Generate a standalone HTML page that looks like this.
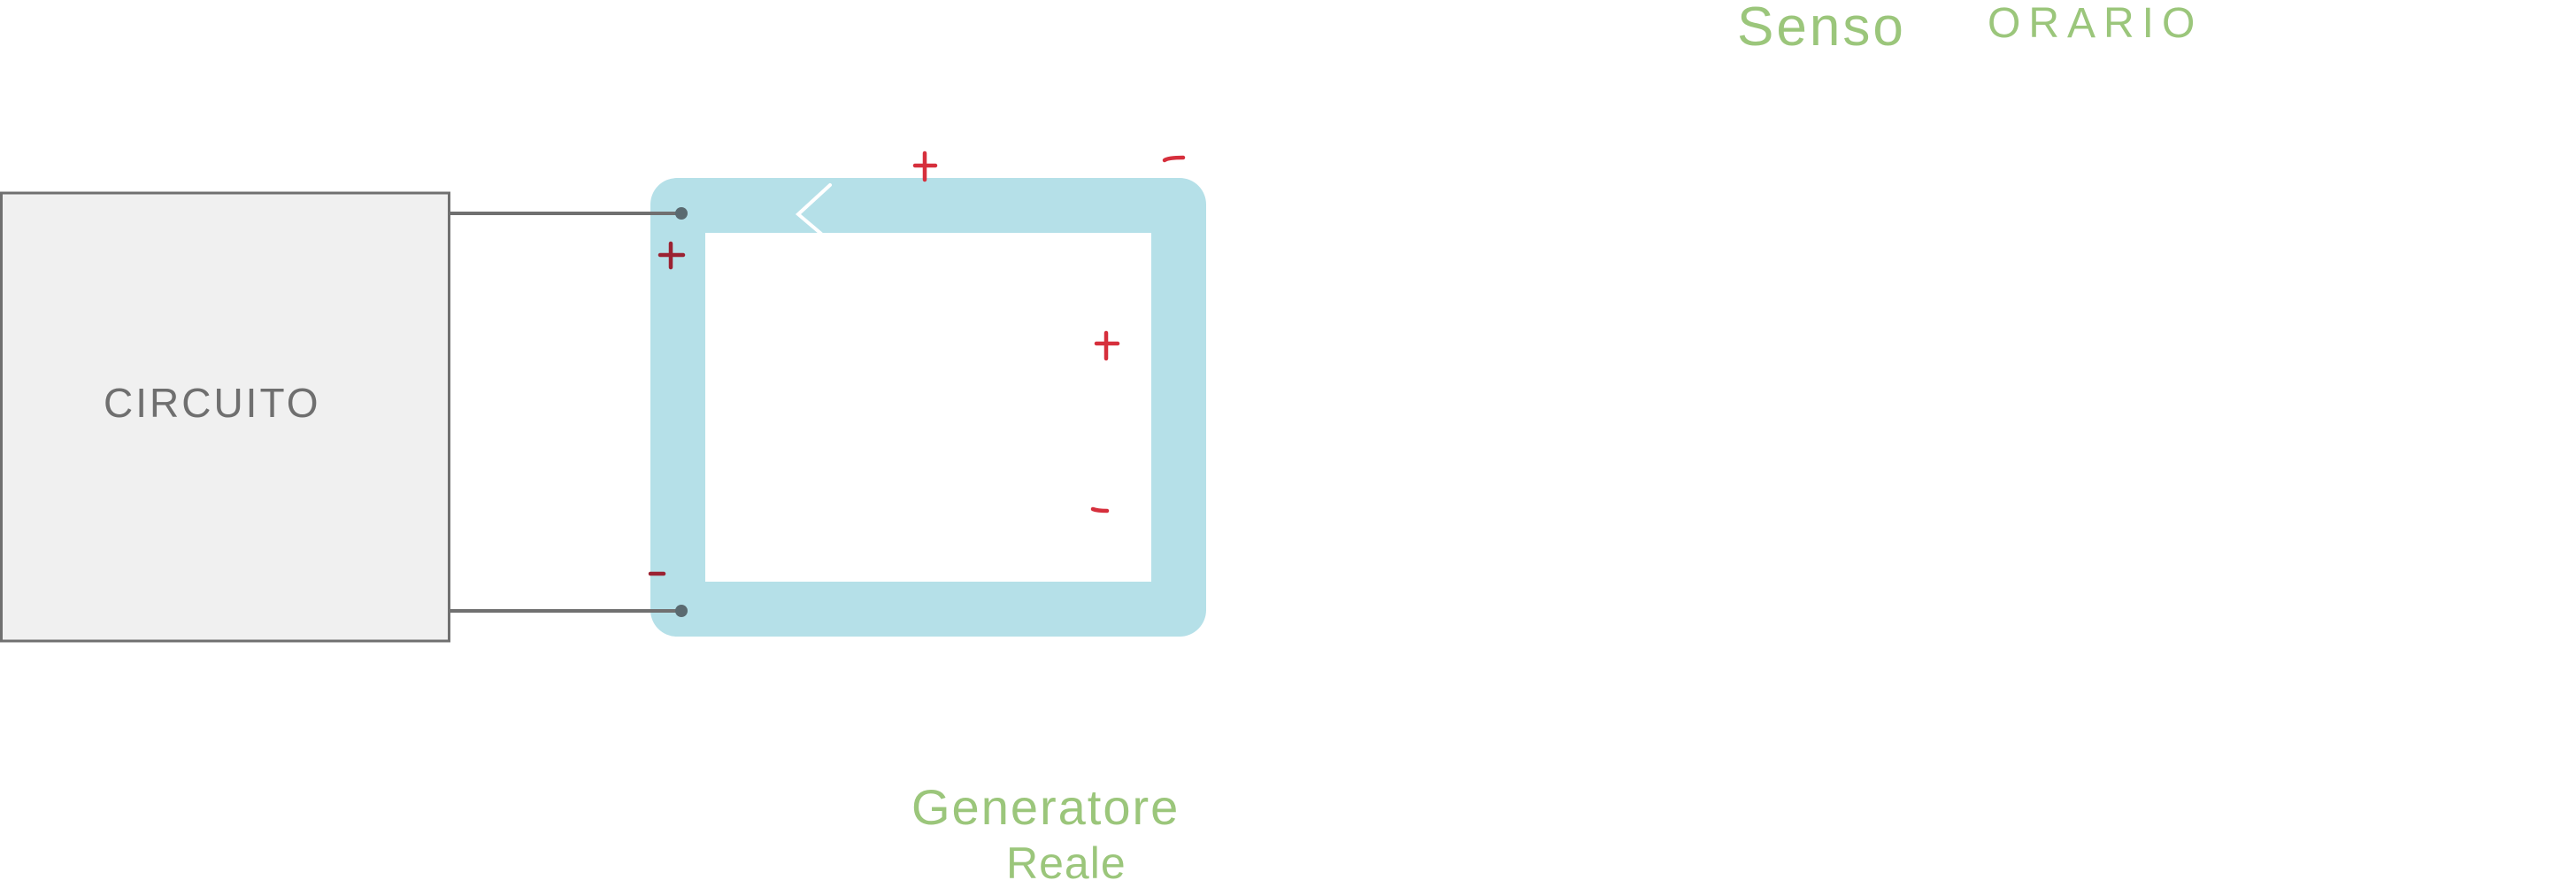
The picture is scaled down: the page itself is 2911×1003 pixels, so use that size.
<!DOCTYPE html>
<html><head><meta charset="utf-8"><style>
body{margin:0;width:2911px;height:1000px;background:#fff;overflow:hidden;position:relative;font-family:"Liberation Sans",sans-serif}
.t{position:absolute;white-space:nowrap;line-height:1}
</style></head><body>
<svg width="2911" height="1000" style="position:absolute;left:0;top:0">
<rect x="1.5" y="218" width="506" height="506" fill="#f0f0f0" stroke="#707070" stroke-width="3"/>
<path fill-rule="evenodd" fill="#b5e0e8" d="M765 201 H1333 A30 30 0 0 1 1363 231 V689 A30 30 0 0 1 1333 719 H765 A30 30 0 0 1 735 689 V231 A30 30 0 0 1 765 201 Z M797 263 V657 H1301 V263 Z"/>
<line x1="508" y1="241" x2="768" y2="241" stroke="#707070" stroke-width="4"/>
<line x1="508" y1="690" x2="768" y2="690" stroke="#707070" stroke-width="4"/>
<circle cx="770" cy="241" r="7" fill="#5a6a70"/>
<circle cx="770" cy="690" r="7" fill="#5a6a70"/>
<polyline points="938,209 902,242 928,264" fill="none" stroke="#fff" stroke-width="4" stroke-linecap="round"/>
<g stroke-width="4.5" stroke-linecap="round" fill="none">
<path d="M1045 173 V203 M1034 187 H1057" stroke="#d62f3c"/>
<path d="M1316 181 Q1320 178 1337 178" stroke="#d62f3c"/>
<path d="M758 275 V302 M746 288 H772" stroke="#9b2232"/>
<path d="M1250 376 V405 M1239 388 H1263" stroke="#d62f3c"/>
<path d="M1235 575 Q1240 577 1251 577" stroke="#d62f3c"/>
<path d="M735 648 H750" stroke="#9b2232"/>
</g>
</svg>
<div class="t" style="left:117px;top:432px;font-size:46px;color:#6f6f6f;letter-spacing:3px">CIRCUITO</div>
<div class="t" style="left:1963px;top:0px;font-size:62px;color:#9bc67b;letter-spacing:3px">Senso</div>
<div class="t" style="left:2246px;top:3px;font-size:48px;color:#9bc67b;letter-spacing:9px">ORARIO</div>
<div class="t" style="left:1030px;top:884px;font-size:56px;color:#9bc67b;letter-spacing:2px">Generatore</div>
<div class="t" style="left:1137px;top:950px;font-size:50px;color:#9bc67b;letter-spacing:1px">Reale</div>
</body></html>
